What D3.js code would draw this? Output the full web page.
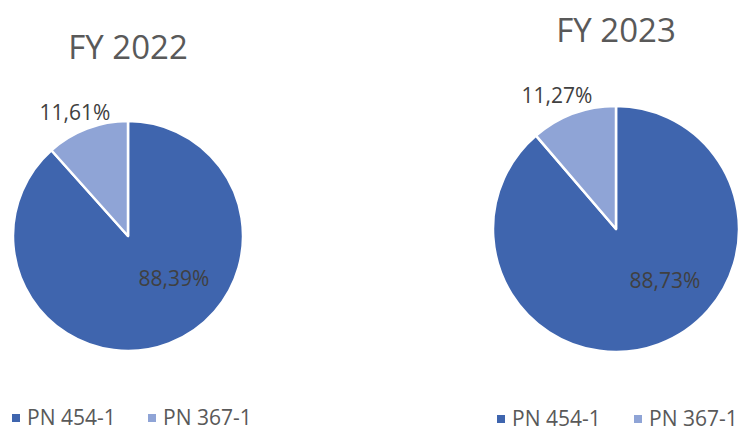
<!DOCTYPE html>
<html><head><meta charset="utf-8">
<script src="https://cdn.jsdelivr.net/npm/d3@7"></script>
<style>body{margin:0;background:#fff}svg{display:block}text{font-family:"Open Sans","Noto Sans",sans-serif}</style>
</head><body>
<svg id="c" width="741" height="432"></svg>
<script>
const categories = ["PN 454-1", "PN 367-1"];
const titles = ["FY 2022", "FY 2023"];
const values2022 = [88.39, 11.61];
const values2023 = [88.73, 11.27];
const colors = ["#3F65AE", "#8FA4D6"];

const svg = d3.select("#c");
const charts = [
  {title: titles[0], values: values2022, cx: 128, cy: 236, r: 115, ty: 59,
   lab: [[174, 286], [75, 120]], leg: 425, xs: [12, 148]},
  {title: titles[1], values: values2023, cx: 616, cy: 229, r: 123, ty: 42,
   lab: [[665, 288], [557, 103]], leg: 426, xs: [497, 634]}
];
const fmt = v => v.toFixed(2).replace(".", ",") + "%";
charts.forEach(ch => {
  const g = svg.append("g").attr("transform", `translate(${ch.cx},${ch.cy})`);
  const pie = d3.pie().sort(null).value(d => d)(ch.values);
  const arc = d3.arc().innerRadius(0).outerRadius(ch.r);
  g.selectAll("path").data(pie).join("path")
    .attr("d", arc).attr("fill", (d, i) => colors[i])
    .attr("stroke", "#fff").attr("stroke-width", 2.5).attr("stroke-linejoin", "round");
  svg.append("text").attr("x", ch.cx).attr("y", ch.ty).attr("text-anchor", "middle")
    .attr("font-size", 33).attr("fill", "#595959").text(ch.title);
  pie.forEach((d, i) => {
    svg.append("text").attr("x", ch.lab[i][0]).attr("y", ch.lab[i][1]).attr("text-anchor", "middle")
      .attr("font-size", 21).attr("fill", "#404040").text(fmt(d.value));
  });
  categories.forEach((c, i) => {
    svg.append("rect").attr("x", ch.xs[i]).attr("y", ch.leg - 11).attr("width", 8).attr("height", 8).attr("fill", colors[i]);
    svg.append("text").attr("x", ch.xs[i] + 15).attr("y", ch.leg).attr("font-size", 21).attr("fill", "#595959").text(c);
  });
});
</script>
</body></html>
